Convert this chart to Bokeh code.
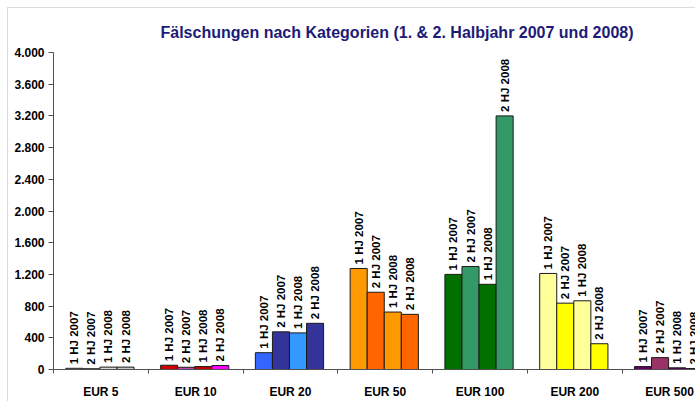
from bokeh.plotting import figure
from bokeh.models import Range1d, FixedTicker, Title, ColumnDataSource
from bokeh.core.properties import value
from bokeh.embed import file_html
from bokeh.resources import INLINE
import math

categories = ["EUR 5", "EUR 10", "EUR 20", "EUR 50", "EUR 100", "EUR 200", "EUR 500"]
series_names = ["1 HJ 2007", "2 HJ 2007", "1 HJ 2008", "2 HJ 2008"]
hj1_2007 = [15, 54, 212, 1275, 1200, 1212, 37]
hj2_2007 = [10, 28, 475, 975, 1300, 837, 150]
hj1_2008 = [30, 37, 462, 725, 1075, 867, 21]
hj2_2008 = [30, 50, 583, 696, 3200, 325, 12]
y_ticks = [0, 400, 800, 1200, 1600, 2000, 2400, 2800, 3200, 3600, 4000]

palette = [
    ["#D8D8D8", "#F4F4F4", "#D8D8D8", "#C8C8C8"],
    ["#D40000", "#C040C0", "#C80000", "#FF00FF"],
    ["#3366FF", "#333399", "#3399FF", "#333399"],
    ["#FF9900", "#FF6600", "#FF9900", "#FF6600"],
    ["#007000", "#339966", "#007000", "#339966"],
    ["#FFFF99", "#FFFF00", "#FFFF99", "#FFFF00"],
    ["#660066", "#993366", "#660066", "#993366"],
]

series = [hj1_2007, hj2_2007, hj1_2008, hj2_2008]
bar_w = 0.18
start = 0.13
xs, tops, cols, labels = [], [], [], []
for gi, cat in enumerate(categories):
    for si, s in enumerate(series):
        xs.append(gi + start + bar_w / 2 + bar_w * si)
        tops.append(s[gi])
        cols.append(palette[gi][si])
        labels.append(series_names[si])

src = ColumnDataSource(dict(x=xs, top=tops, color=cols, label=labels))

edge = "linear-gradient(#DCDCD4, #DCDCD4)"
p = figure(width=695, height=401, output_backend="svg", toolbar_location=None,
           x_range=Range1d(0, 6.774), y_range=Range1d(0, 4000),
           min_border_left=53, min_border_right=0, min_border_top=52, min_border_bottom=29,
           styles={"background": f"{edge} 7px 7px / 100% 1px no-repeat, "
                                 f"{edge} 7px 7px / 1px 100% no-repeat, white"})
p.background_fill_color = "white"
p.border_fill_color = None
p.outline_line_color = None
p.xgrid.visible = False
p.ygrid.visible = False

p.vbar(x="x", top="top", bottom=0, width=bar_w, fill_color="color",
       line_color="#1A1A1A", line_width=1, source=src)
p.text(x="x", y="top", text="label", angle=math.pi / 2, source=src,
       text_align="left", text_baseline="middle", x_offset=0, y_offset=-4,
       text_font=value("Liberation Sans"), text_font_style="bold",
       text_font_size="11.5px", text_color="black")

title = Title(text="Fälschungen nach Kategorien (1. & 2. Halbjahr 2007 und  2008)",
              align="left", offset=107, text_font="Liberation Sans",
              text_font_size="16px", text_font_style="bold", text_color="#1C1C78",
              standoff=24)
p.add_layout(title, "above")

# x axis: labels at group centres, ticks at group boundaries
xa = p.xaxis[0]
xa.ticker = FixedTicker(ticks=[i + 0.5 for i in range(len(categories))],
                        minor_ticks=list(range(len(categories) + 1)))
xa.major_label_overrides = {i + 0.5: c for i, c in enumerate(categories)}
xa.major_tick_out = 0
xa.major_tick_in = 0
xa.minor_tick_out = 4
xa.minor_tick_in = 0
xa.major_label_standoff = 11
xa.axis_line_color = "#505050"
xa.minor_tick_line_color = "#505050"
xa.major_label_text_font = "Liberation Sans"
xa.major_label_text_font_style = "bold"
xa.major_label_text_font_size = "12px"
xa.major_label_text_color = "black"

ya = p.yaxis[0]
ya.ticker = FixedTicker(ticks=y_ticks)
ya.major_label_overrides = {v: f"{v:,}".replace(",", ".") for v in y_ticks}
ya.major_tick_out = 5
ya.major_tick_in = 0
ya.minor_tick_out = 0
ya.minor_tick_in = 0
ya.major_label_standoff = 4
ya.axis_line_color = "#505050"
ya.major_tick_line_color = "#505050"
ya.major_label_text_font = "Liberation Sans"
ya.major_label_text_font_style = "bold"
ya.major_label_text_font_size = "12px"
ya.major_label_text_color = "black"

open("out.html", "w").write(file_html(p, INLINE))
